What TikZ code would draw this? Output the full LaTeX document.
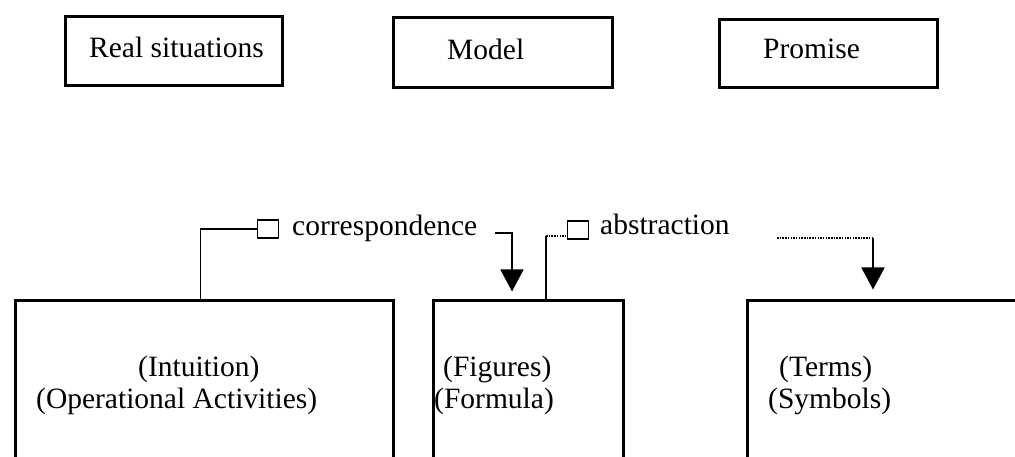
\documentclass[tikz,border=0pt]{standalone}
\usepackage{fontspec}
\setmainfont{Liberation Serif}
\usetikzlibrary{arrows.meta}
\begin{document}
\begin{tikzpicture}[x=1pt,y=-1pt,
  box/.style={draw, line width=3pt, inner sep=0pt},
  lbl/.style={anchor=base west, inner sep=0pt, font=\fontsize{29.5}{33}\selectfont},
  sq/.style={draw, line width=1.8pt, inner sep=0pt, minimum width=21pt, minimum height=18pt},
  conn/.style={line width=1.8pt},
  dots/.style={line width=2pt, dash pattern=on 1.5pt off 1.2pt},
  arr/.style={conn, -{Triangle[length=22pt,width=23pt]}}]
\clip (0,0) rectangle (1015,457);
\fill[white] (0,0) rectangle (1015,457);
% top boxes
\node[box, minimum width=217pt, minimum height=69pt] (real) at (173.5,51.5) {};
\node[box, minimum width=219pt, minimum height=70pt] (model) at (502.5,53) {};
\node[box, minimum width=218pt, minimum height=68pt] (promise) at (828,54) {};
\node[lbl] (realt) at (89,58) {Real situations};
\node[lbl] (modelt) at (447,60) {Model};
\node[lbl] (promiset) at (763,59) {Promise};
% bottom boxes
\node[box, minimum width=378pt, minimum height=220pt] (lbox) at (204,410) {};
\node[box, minimum width=190pt, minimum height=220pt] (mbox) at (528,410) {};
\node[box, minimum width=353pt, minimum height=220pt] (rbox) at (923.5,410) {};
\node[lbl] (intu) at (138,376) {(Intuition)};
\node[lbl] (oper) at (36,408) {(Operational Activities)};
\node[lbl] (figu) at (443,376) {(Figures)};
\node[lbl] (form) at (434,408) {(Formula)};
\node[lbl] (term) at (779,376) {(Terms)};
\node[lbl] (symb) at (768,408) {(Symbols)};
% labels with small squares
\node[sq] (sq1) at (268,229) {};
\node[lbl] (corr) at (292,236) {correspondence};
\node[sq] (sq2) at (578,230) {};
\node[lbl] (abst) at (600,235) {abstraction};
% correspondence connector
\draw[conn] ([xshift=187pt]lbox.north west) |- (sq1.west);
\coordinate (c1) at (495,233);
\draw[arr, shorten >=7pt] (c1) -| ([xshift=-16pt]mbox.north);
% abstraction connector
\coordinate (a1) at (546,236);
\draw[conn] (a1 |- mbox.north) -- (a1);
\draw[dots] (a1) -- (a1 -| sq2.west);
\coordinate (d1) at (777,238);
\coordinate (d2) at (873,238);
\draw[dots] (d1) -- (d2);
\draw[arr, shorten >=9pt] (d2) -- (d2 |- rbox.north);
\end{tikzpicture}
\end{document}
